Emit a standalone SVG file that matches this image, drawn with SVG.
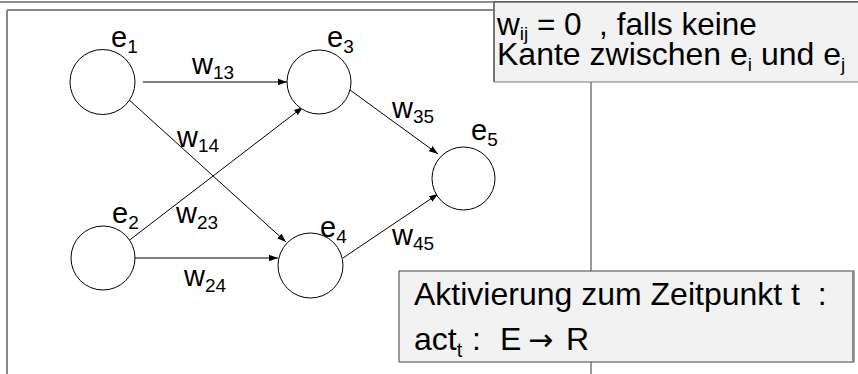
<svg xmlns="http://www.w3.org/2000/svg" width="858" height="374" viewBox="0 0 858 374">
<defs>
<marker id="arr" markerWidth="10" markerHeight="8" refX="9" refY="4" orient="auto" markerUnits="userSpaceOnUse">
<path d="M0,0.8 L9,4 L0,7.2 Z" fill="#000"/>
</marker>
<style>
.node{fill:#fff;stroke:#000;stroke-width:1}
.edge{stroke:#000;stroke-width:1;fill:none;marker-end:url(#arr)}
.lbl{font-family:"Liberation Sans",Arial,sans-serif;font-size:29px;fill:#000}
.sub{font-size:19px}
.btxt{font-family:"Liberation Sans",Arial,sans-serif;fill:#000}
</style>
</defs>
<rect width="858" height="374" fill="#fff"/>
<g id="frame">
<line x1="0" y1="2" x2="858" y2="2" stroke="#222" stroke-width="1.2"/>
<line x1="7" y1="10" x2="494" y2="10" stroke="#111" stroke-width="1.2"/>
<line x1="7" y1="10" x2="7" y2="374" stroke="#888" stroke-width="2"/>
<line x1="591" y1="82" x2="591" y2="374" stroke="#777" stroke-width="1.5"/>
</g>
<g id="connectors">
<line class="edge" x1="143" y1="82" x2="287" y2="82"/>
<line class="edge" x1="127" y1="98" x2="286" y2="242"/>
<line class="edge" x1="127" y1="242" x2="303" y2="107"/>
<line class="edge" x1="135" y1="258" x2="278" y2="258"/>
<line class="edge" x1="350" y1="90" x2="438" y2="154"/>
<line class="edge" x1="343" y1="258" x2="438" y2="194"/>
</g>
<g id="edge-labels" class="lbl">
<text x="192" y="74">w<tspan class="sub" dy="5">13</tspan></text>
<text x="177" y="147">w<tspan class="sub" dy="5">14</tspan></text>
<text x="392" y="118">w<tspan class="sub" dy="5">35</tspan></text>
<text x="176" y="223">w<tspan class="sub" dy="6">23</tspan></text>
<text x="184" y="286">w<tspan class="sub" dy="6">24</tspan></text>
<text x="392" y="245">w<tspan class="sub" dy="5">45</tspan></text>
</g>
<g id="e1"><circle class="node" cx="102.5" cy="82" r="32.5"/><text class="lbl" x="111" y="47">e<tspan class="sub" dy="6">1</tspan></text></g>
<g id="e3"><circle class="node" cx="319" cy="82" r="32"/><text class="lbl" x="327" y="47">e<tspan class="sub" dy="6">3</tspan></text></g>
<g id="e2"><circle class="node" cx="103" cy="258" r="32"/><text class="lbl" x="112" y="223">e<tspan class="sub" dy="6">2</tspan></text></g>
<g id="e4"><circle class="node" cx="310.5" cy="265.5" r="32.5"/><text class="lbl" x="320" y="237">e<tspan class="sub" dy="6">4</tspan></text></g>
<g id="e5"><circle class="node" cx="463.5" cy="178.5" r="31.5"/><text class="lbl" x="471" y="140">e<tspan class="sub" dy="6">5</tspan></text></g>
<g id="note1">
<rect x="494" y="2" width="370" height="80" fill="#f2f2f2"/>
<line x1="494" y1="2" x2="494" y2="82" stroke="#777" stroke-width="2"/>
<line x1="494" y1="82" x2="858" y2="82" stroke="#777" stroke-width="1.2"/>
<line x1="494" y1="2" x2="858" y2="2" stroke="#222" stroke-width="1.2"/>
<text class="btxt" font-size="31.5" x="497" y="35">w<tspan font-size="19" dy="5">ij</tspan><tspan dy="-5"> = 0&#160; , falls keine</tspan></text>
<text class="btxt" font-size="32" x="497" y="65">Kante zwischen e<tspan font-size="19" dy="6">i</tspan><tspan dy="-6"> und e</tspan><tspan font-size="19" dy="6">j</tspan></text>
</g>
<g id="note2">
<rect x="399" y="271" width="455" height="91" fill="#f2f2f2" stroke="#444" stroke-width="1"/>
<line x1="853" y1="271" x2="853" y2="362" stroke="#888" stroke-width="2"/>
<text class="btxt" font-size="32" x="414" y="305">Aktivierung zum Zeitpunkt t&#160; :</text>
<text class="btxt" font-size="32" x="414" y="350">act<tspan font-size="20" dy="7">t</tspan><tspan dy="-7" x="472">:</tspan><tspan x="500">E</tspan><tspan x="528" font-family="DejaVu Sans" font-size="30">→</tspan><tspan x="566">R</tspan></text>
</g>
</svg>
